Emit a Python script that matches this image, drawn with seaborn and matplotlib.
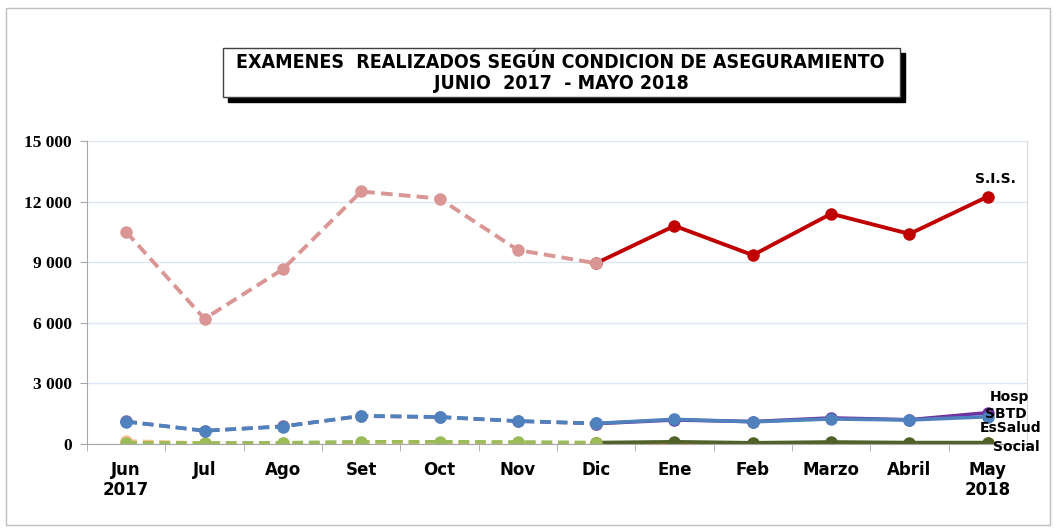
import numpy as np
import pandas as pd
import matplotlib
matplotlib.use("Agg")
import matplotlib.pyplot as plt
from matplotlib.patches import Rectangle
from matplotlib.ticker import FuncFormatter, FixedLocator
import seaborn as sns

months = ["Jun\n2017", "Jul", "Ago", "Set", "Oct", "Nov", "Dic",
          "Ene", "Feb", "Marzo", "Abril", "May\n2018"]

sis = [10500, 6200, 8650, 12500, 12150, 9600, 8950,
       10800, 9350, 11400, 10400, 12250]
hosp = [1120, 650, 880, 1380, 1330, 1130, 1010,
        1190, 1110, 1290, 1200, 1550]
sbtd = [1100, 660, 860, 1400, 1340, 1140, 1020,
        1220, 1100, 1240, 1190, 1350]
essalud = [150, 40, 30, 40, 40, 30, 40,
           20, 20, 20, 20, 30]
social = [60, 50, 60, 110, 110, 100, 70,
          110, 60, 100, 70, 70]

# (name, values, dashed colour, solid colour, label offset px)
series = [
    ("EsSalud", essalud, "#FAC090", "#E46C0A", (23, 15)),
    ("Social", social, "#9BBB59", "#4F6228", (28, -4)),
    ("Hosp", hosp, "#8064A2", "#7030A0", (22, 16)),
    ("SBTD", sbtd, "#4F81BD", "#4F81BD", (18, 3)),
    ("S.I.S.", sis, "#D99694", "#C00000", (8, 18)),
]

sns.set_style("white")
plt.rcParams["text.color"] = "black"
plt.rcParams["xtick.color"] = "black"
plt.rcParams["ytick.color"] = "black"

fig = plt.figure(figsize=(10.57, 5.29), dpi=100)
ax = fig.add_axes([87 / 1057, 85 / 529, 940 / 1057, 303 / 529])

split = 6  # Dic: last month of the dashed part
for name, vals, c_dash, c_solid, off in series:
    df = pd.DataFrame({"x": np.arange(len(vals)), "y": vals})
    solid = df[df.x >= split]
    dashed = df[df.x <= split]
    lw = 2.8 if name == "S.I.S." else 2.6
    sns.lineplot(data=solid, x="x", y="y", color=c_solid, lw=lw,
                 marker="o", markersize=9, markeredgewidth=0, ax=ax)
    sns.lineplot(data=dashed, x="x", y="y", color=c_dash, lw=lw,
                 linestyle=(0, (3, 1.6)), marker="o", markersize=9,
                 markeredgewidth=0, ax=ax)
    ax.annotate(name, xy=(len(vals) - 1, vals[-1]), xytext=off,
                textcoords="offset pixels", ha="center", va="center",
                fontsize=10, fontweight="bold", color="black",
                family=["DejaVu Sans"])

ax.set_xlim(-0.5, 11.5)
ax.set_ylim(0, 15000)
ax.set_xlabel("")
ax.set_ylabel("")

ax.set_yticks(np.arange(0, 15001, 3000))
ax.yaxis.set_major_formatter(
    FuncFormatter(lambda v, p: f"{int(v):,}".replace(",", " ")))
ax.set_xticks(np.arange(len(months)))
ax.set_xticklabels(months)
ax.xaxis.set_minor_locator(FixedLocator(np.arange(-0.5, 12, 1)))
ax.tick_params(axis="x", which="major", length=0, pad=12)
ax.tick_params(axis="x", which="minor", length=5, color="#A6A6A6",
               direction="out", bottom=True)
ax.tick_params(axis="y", length=5, color="#A6A6A6", direction="out",
               left=True, pad=6)
for lab in ax.get_xticklabels():
    lab.set_fontweight("bold")
    lab.set_fontsize(12)
    lab.set_family("DejaVu Sans")
    lab.set_color("black")
for lab in ax.get_yticklabels():
    lab.set_fontweight("bold")
    lab.set_fontsize(12.5)
    lab.set_family("Liberation Serif")
    lab.set_color("black")

ax.grid(axis="y", color="#DCE6F2", lw=1)
ax.set_axisbelow(True)
for s in ["left", "bottom"]:
    ax.spines[s].set_color("#A6A6A6")
ax.spines["right"].set_color("#D9D9D9")
ax.spines["top"].set_visible(False)

# chart frame
fig.patches.append(Rectangle((6 / 1057, 4 / 529), 1044 / 1057, 517 / 529,
                             transform=fig.transFigure, fill=False,
                             edgecolor="#BFBFBF", lw=1))

# title box with shadow
bx, by, bw, bh = 223 / 1057, (529 - 97) / 529, 677 / 1057, 49 / 529
fig.patches.append(Rectangle((bx + 5 / 1057, by - 5 / 529), bw, bh,
                             transform=fig.transFigure, facecolor="black",
                             edgecolor="black", lw=1, zorder=1))
fig.patches.append(Rectangle((bx, by), bw, bh, transform=fig.transFigure,
                             facecolor="white", edgecolor="#404040",
                             lw=1, zorder=2))
fig.text(560 / 1057, (529 - 62) / 529,
         "EXAMENES  REALIZADOS SEGÚN CONDICION DE ASEGURAMIENTO",
         ha="center", va="center", fontsize=14, fontweight="bold",
         family=["DejaVu Sans"], stretch="condensed", zorder=3)
fig.text(561 / 1057, (529 - 83) / 529, "JUNIO  2017  - MAYO 2018",
         ha="center", va="center", fontsize=14, fontweight="bold",
         family=["DejaVu Sans"], stretch="condensed", zorder=3)

fig.savefig("out.png", dpi=100)
